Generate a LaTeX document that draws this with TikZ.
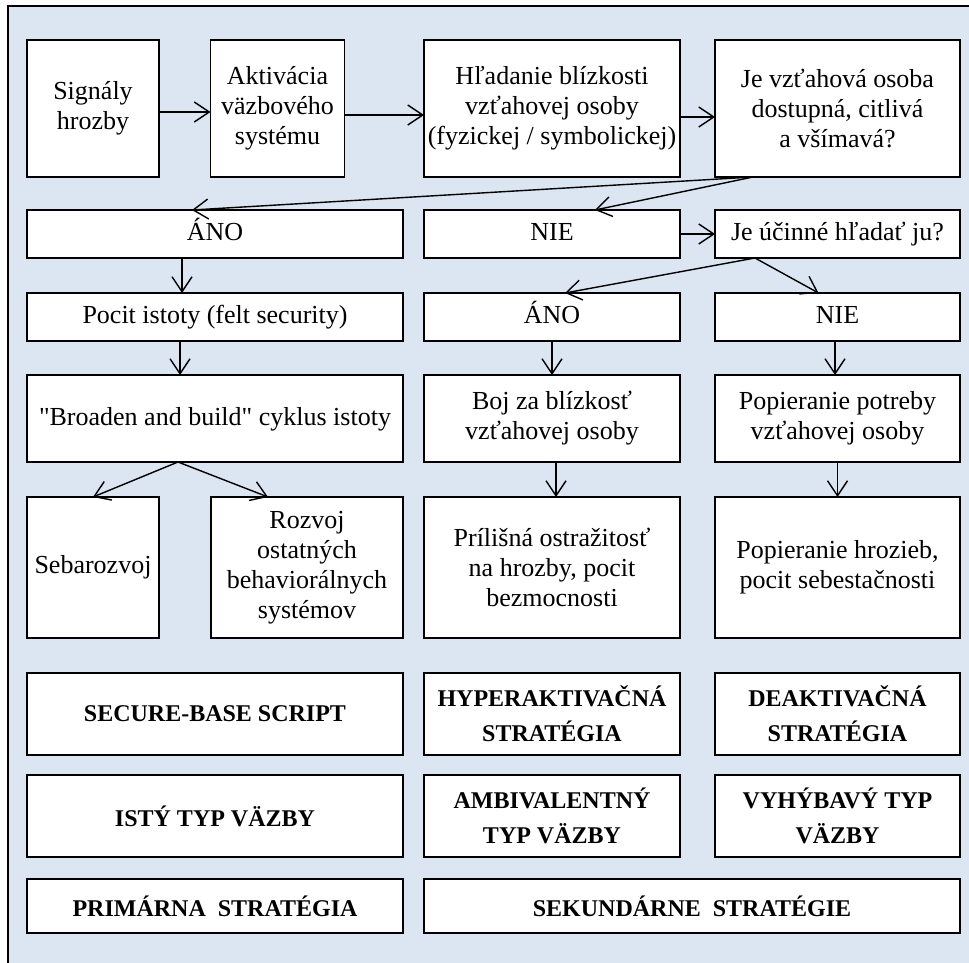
\documentclass[tikz,border=0pt]{standalone}
\usepackage{fontspec}
\setmainfont{Liberation Serif}
\usetikzlibrary{arrows.meta,calc}
\definecolor{bgblue}{HTML}{DCE6F2}
\newcommand\straightquote{\XeTeXglyph\XeTeXcharglyph34\relax}
\begin{document}
\begin{tikzpicture}[x=1pt,y=-1pt,
  box/.style={draw=black, line width=1.6pt, fill=white, align=center, inner sep=0pt, outer sep=0pt, font=\fontsize{26}{30}\selectfont},
  bbox/.style={box, font=\fontsize{24}{35}\selectfont\bfseries},
  oneline/.style={text height=18pt, text depth=5pt},
  conn/.style={line width=1.4pt, -{Straight Barb[length=15pt,width=20pt]}},
]
\useasboundingbox (0,0) rectangle (969,963);
\fill[white] (0,0) rectangle (969,963);
\fill[bgblue] (8,6) rectangle (969,963);
\draw[line width=2pt] (8,963) -- (8,6) -- (969,6);

% Row 1
\node[box, minimum width=132pt, minimum height=137pt] (sig) at (93,108.5) {Signály\\hrozby};
\node[box, minimum width=134pt, minimum height=137pt] (akt) at (277.5,108.5) {Aktivácia\\väzbového\\systému};
\node[box, minimum width=256pt, minimum height=137pt] (hla) at (552,108.5) {Hľadanie blízkosti\\vzťahovej osoby\\(fyzickej / symbolickej)};
\node[box, minimum width=245pt, minimum height=137pt] (je) at (837.5,108.5) {Je vzťahová osoba\\dostupná, citlivá\\a všímavá?};

% Row 2
\node[box, oneline, minimum width=376pt, minimum height=48pt] (ano1) at (215,234) {ÁNO};
\node[box, oneline, minimum width=256pt, minimum height=48pt] (nie1) at (552,234) {NIE};
\node[box, oneline, minimum width=245pt, minimum height=48pt] (ucin) at (837.5,234) {Je účinné hľadať ju?};

% Row 3
\node[box, oneline, minimum width=376pt, minimum height=48pt] (pocit) at (215,317) {Pocit istoty (felt security)};
\node[box, oneline, minimum width=256pt, minimum height=48pt] (ano2) at (552,317) {ÁNO};
\node[box, oneline, minimum width=245pt, minimum height=48pt] (nie2) at (837.5,317) {NIE};

% Row 4
\node[box, oneline, minimum width=376pt, minimum height=87pt] (broad) at (215,418.5) {\straightquote Broaden and build\straightquote\ cyklus istoty};
\node[box, minimum width=256pt, minimum height=87pt] (boj) at (552,418.5) {Boj za blízkosť\\vzťahovej osoby};
\node[box, minimum width=245pt, minimum height=87pt] (popot) at (837.5,418.5) {Popieranie potreby\\vzťahovej osoby};

% Row 5
\node[box, minimum width=132pt, minimum height=141pt] (seba) at (93,567.5) {Sebarozvoj};
\node[box, minimum width=192pt, minimum height=141pt] (rozv) at (307,567.5) {Rozvoj\\ostatných\\behaviorálnych\\systémov};
\node[box, minimum width=256pt, minimum height=141pt] (prili) at (552,567.5) {Prílišná ostražitosť\\na hrozby, pocit\\bezmocnosti};
\node[box, minimum width=245pt, minimum height=141pt] (pophr) at (837.5,567.5) {Popieranie hrozieb,\\pocit sebestačnosti};

% Row 6
\node[bbox, minimum width=376pt, minimum height=82pt] (sbs) at (215,714) {SECURE-BASE SCRIPT};
\node[bbox, minimum width=256pt, minimum height=82pt] (hyper) at (552,714) {HYPERAKTIVAČNÁ\\STRATÉGIA};
\node[bbox, minimum width=245pt, minimum height=82pt] (deakt) at (837.5,714) {DEAKTIVAČNÁ\\STRATÉGIA};

% Row 7
\node[bbox, minimum width=376pt, minimum height=82pt] (isty) at (215,816) {ISTÝ TYP VÄZBY};
\node[bbox, minimum width=256pt, minimum height=82pt] (ambi) at (552,816) {AMBIVALENTNÝ\\TYP VÄZBY};
\node[bbox, minimum width=245pt, minimum height=82pt] (vyhy) at (837.5,816) {VYHÝBAVÝ TYP\\VÄZBY};

% Row 8
\node[bbox, minimum width=376pt, minimum height=54pt] (prim) at (215,906) {PRIMÁRNA~~STRATÉGIA};
\node[bbox, minimum width=536pt, minimum height=54pt] (seku) at (692,906) {SEKUNDÁRNE~~STRATÉGIE};

% Connectors
\draw[conn] ([yshift=-3.5pt]sig.east) -- ([yshift=-3.5pt]akt.west);
\draw[conn] ([yshift=-6.5pt]akt.east) -- ([yshift=-6.5pt]hla.west);
\draw[conn] ([yshift=-8.5pt]hla.east) -- ([yshift=-8.5pt]je.west);

\coordinate (jeo) at ($(je.south west)+(38,0)$);
\draw[conn] (jeo) -- ($(ano1.north)+(-23,0)$);
\draw[conn] (jeo) -- ($(nie1.north)+(43,0)$);
\draw[conn] (nie1) -- (ucin);

\coordinate (uco) at ($(ucin.south west)+(40,0)$);
\draw[conn] (uco) -- ($(ano2.north)+(13,0)$);
\draw[conn] (uco) -- ($(nie2.north)+(-19,0)$);

\draw[conn] ($(ano1.south)+(-33,0)$) -- ($(pocit.north)+(-33,0)$);
\draw[conn] ($(pocit.south)+(-35,0)$) -- ($(broad.north)+(-35,0)$);
\draw[conn] (ano2) -- (boj);
\draw[conn] ($(nie2.south)+(-2.5,0)$) -- ($(popot.north)+(-2.5,0)$);

\coordinate (bro) at ($(broad.south)+(-37,0)$);
\draw[conn] (bro) -- (seba.north);
\draw[conn] (bro) -- ($(rozv.north)+(-39,0)$);
\draw[conn] ($(boj.south)+(4,0)$) -- ($(prili.north)+(4,0)$);
\draw[conn] (popot) -- (pophr);
\end{tikzpicture}
\end{document}
